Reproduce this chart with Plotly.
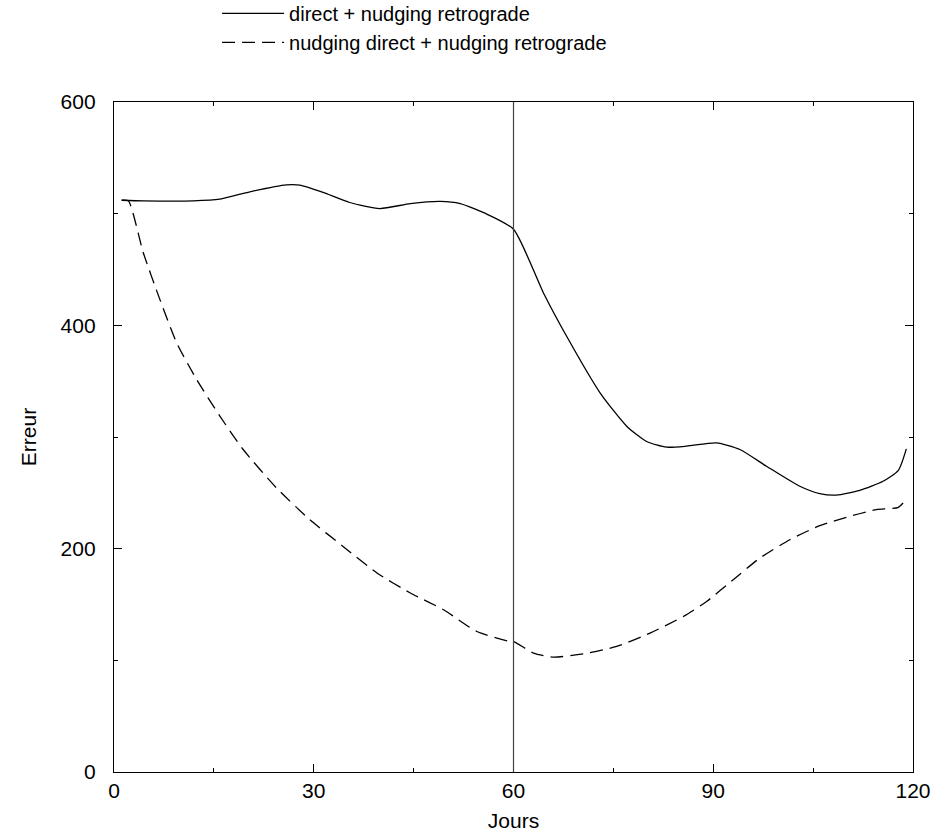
import plotly.graph_objects as go

# Data
days_direct = [1.15, 4.4, 11.9, 15.9, 20.4, 25.9, 27.9, 31.4, 35.4, 39.9, 44.5, 49, 52, 56, 60,
               64.5, 68, 73, 77, 80, 83, 86, 90.5, 94, 98, 103, 106, 108.5, 112, 115.5, 117.8, 119]
err_direct = [512, 511.5, 511.5, 513, 519.6, 525.8, 525.6, 519, 510, 504.6, 509, 511, 509, 499.6, 486,
              429, 390, 339.6, 309.7, 296, 290.9, 291.8, 294.8, 288.8, 273.8, 255.9, 249.3, 248, 252.3, 260.4, 270.2, 289.4]

days_nudge = [1.15, 2.15, 4.4, 6.9, 9.4, 12.4, 15.9, 19.4, 24.4, 29.4, 34.4, 39.5, 44.5, 49.5, 54.5, 59.5, 60,
              63, 66, 70.5, 75.5, 80.5, 85.5, 89, 93, 97, 101.5, 106, 110.5, 114.5, 117.8, 119]
err_nudge = [512, 511.5, 465, 423, 384.5, 351.6, 318.7, 288.8, 254.4, 226, 202, 178.2, 160.3, 145.3, 125.8, 116.9, 116.9,
             106.5, 102.9, 105.8, 112.4, 124.4, 139.3, 152.7, 172.2, 191.6, 208, 220.6, 229, 235, 237, 244.5]

names = ["direct + nudging retrograde", "nudging direct + nudging retrograde"]
x_ticks = [0, 30, 60, 90, 120]
y_ticks = [0, 200, 400, 600]
vline_day = 60

FONT = "Liberation Sans, Arial, Helvetica, sans-serif"

fig = go.Figure()
fig.add_trace(go.Scatter(x=days_direct, y=err_direct, mode="lines", name=names[0],
                         line=dict(color="black", width=1.3, shape="spline", smoothing=0.6)))
fig.add_trace(go.Scatter(x=days_nudge, y=err_nudge, mode="lines", name=names[1],
                         line=dict(color="black", width=1.3, dash="13px,7px", shape="spline", smoothing=0.6)))

fig.add_shape(type="line", x0=vline_day, x1=vline_day, y0=0, y1=1, xref="x", yref="paper",
              line=dict(color="#444444", width=1.2))

axis_common = dict(showgrid=False, zeroline=False, showline=True, linecolor="black", linewidth=1.3,
                   mirror="ticks", ticks="inside", ticklen=8, tickwidth=1.2, tickcolor="black",
                   automargin=False,
                   tickfont=dict(family=FONT, size=21, color="black"))

fig.update_xaxes(range=[0, 120], tickmode="array", tickvals=x_ticks, ticktext=[str(v) for v in x_ticks],
                 minor=dict(dtick=15, tick0=0, ticks="inside", ticklen=4, tickwidth=1.2, tickcolor="black"),
                 title=dict(text="Jours", font=dict(family=FONT, size=21, color="black"), standoff=11),
                 ticklabelstandoff=0,
                 **axis_common)
fig.update_yaxes(range=[0, 600], tickmode="array", tickvals=y_ticks, ticktext=[str(v) for v in y_ticks],
                 minor=dict(dtick=100, tick0=0, ticks="inside", ticklen=4, tickwidth=1.2, tickcolor="black"),
                 title=dict(text="Erreur", font=dict(family=FONT, size=21, color="black"), standoff=18),
                 ticklabelstandoff=13,
                 **axis_common)

fig.update_layout(
    width=947, height=838,
    margin=dict(l=114, r=34, t=102, b=66, autoexpand=False),
    plot_bgcolor="white", paper_bgcolor="white",
    font=dict(family=FONT, size=21, color="black"),
    legend=dict(x=0.129, y=1.1614, xanchor="left", yanchor="top", bgcolor="rgba(0,0,0,0)",
                font=dict(family=FONT, size=20, color="black"), itemwidth=62, tracegroupgap=0),
    showlegend=True,
)

fig.write_html("out.html", config={"displayModeBar": False},
               post_script="document.body.style.margin='0';")
